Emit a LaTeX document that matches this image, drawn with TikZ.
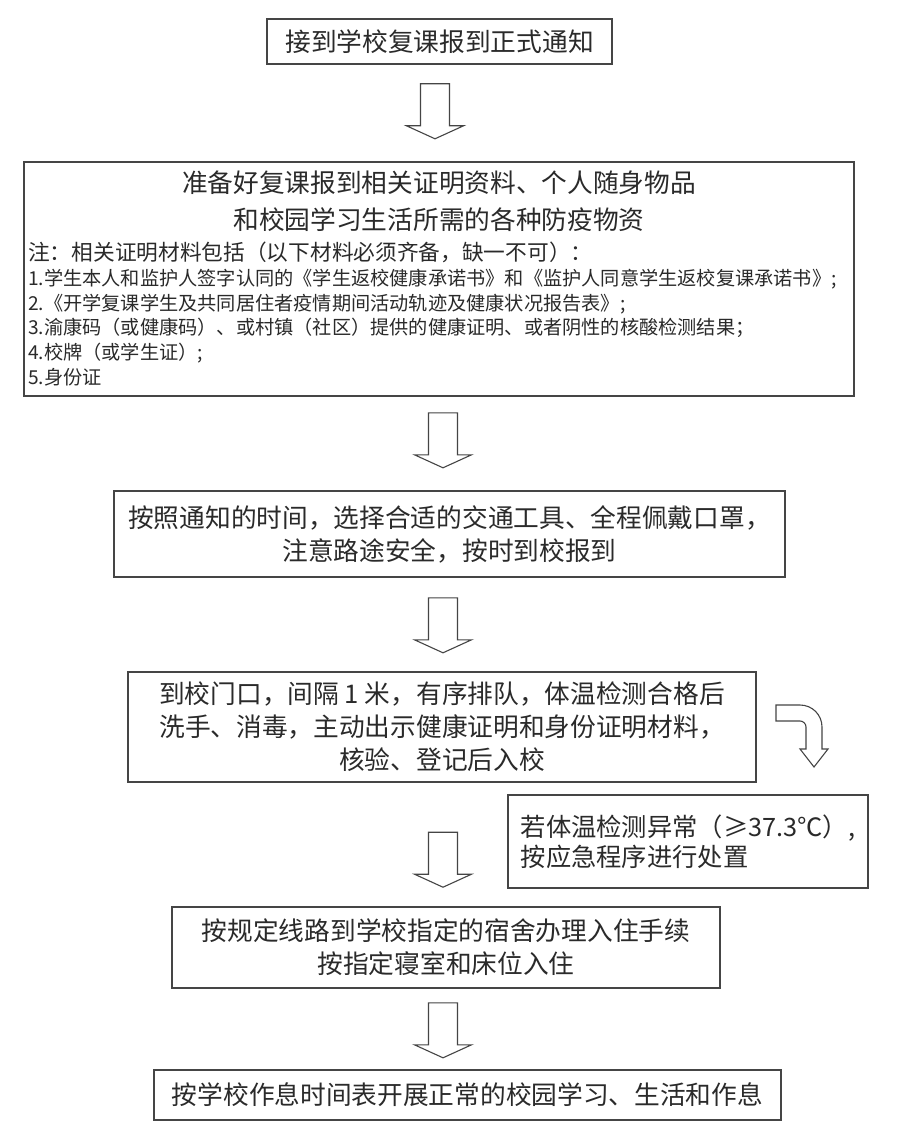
\documentclass[tikz,border=0pt]{standalone}
\usepackage{fontspec}
\setmainfont{Noto Sans CJK SC}
\usetikzlibrary{positioning}

\definecolor{linegray}{HTML}{454545}
\definecolor{textgray}{HTML}{2A2A2A}

\newcommand{\bigtext}{\fontsize{25.7pt}{33pt}\selectfont}
\newcommand{\notetext}{\fontsize{21.7pt}{26pt}\selectfont}
\newcommand{\itemtext}{\fontsize{19.2pt}{24.75pt}\selectfont}

\tikzset{
  stepbox/.style={draw=linegray, line width=1.6pt, text=textgray, align=center, font=\bigtext, inner sep=0pt},
  plaintext/.style={text=textgray, inner sep=0pt},
  hollowline/.style={draw=linegray, line width=1.1pt, fill=white, line join=miter},
  hollowdown/.pic={\draw[hollowline] (-14.5,0) -- (14.5,0) -- (14.5,42) -- (28.5,42) -- (0,55) -- (-28.5,42) -- (-14.5,42) -- cycle;}
}

\begin{document}
\begin{tikzpicture}[x=1pt, y=-1pt]

\fill[white] (0,0) rectangle (908,1134);
\useasboundingbox (0,0) rectangle (908,1134);

\node[stepbox, minimum width=345pt, minimum height=45pt] (notice) at (439.5,41.5) {接到学校复课报到正式通知};

% box with the list of documents
\node[stepbox, minimum width=830pt, minimum height=234pt] (prep) at (439,279) {};
\node[plaintext, align=center, font={\fontsize{25.7pt}{37pt}\selectfont}] (prephead) at (439,201.5)
  {准备好复课报到相关证明资料、个人随身物品\\和校园学习生活所需的各种防疫物资};
\node[plaintext, font=\notetext, anchor=west] (prepnote) at (28,252) {注：相关证明材料包括（以下材料必须齐备，缺一不可）：};
\node[plaintext, font=\itemtext, align=left, anchor=west] (prepitems) at (28,327.5)
  {1.学生本人和监护人签字认同的《学生返校健康承诺书》和《监护人同意学生返校复课承诺书》;\\
   2.《开学复课学生及共同居住者疫情期间活动轨迹及健康状况报告表》;\\
   3.渝康码（或健康码）、或村镇（社区）提供的健康证明、或者阴性的核酸检测结果；\\
   4.校牌（或学生证）;\\
   5.身份证};

\node[stepbox, minimum width=671pt, minimum height=86pt] (travel) at (449.5,534)
  {按照通知的时间，选择合适的交通工具、全程佩戴口罩，\\注意路途安全，按时到校报到};

\node[stepbox, minimum width=628pt, minimum height=110pt] (gate) at (442,727)
  {到校门口，间隔 1 米，有序排队，体温检测合格后\\洗手、消毒，主动出示健康证明和身份证明材料，\\核验、登记后入校};

\node[stepbox, align=left, font={\fontsize{25.3pt}{30pt}\selectfont}, minimum width=360pt, minimum height=93pt] (fever) at (688,841.5)
  {若体温检测异常（≥37.3℃）,\\按应急程序进行处置};

\node[stepbox, minimum width=548pt, minimum height=81pt] (dorm) at (446,947.5)
  {按规定线路到学校指定的宿舍办理入住手续\\按指定寝室和床位入住};

\node[stepbox, minimum width=627pt, minimum height=50pt] (daily) at (467.5,1095)
  {按学校作息时间表开展正常的校园学习、生活和作息};

% hollow arrows
\path (notice.south) ++(-4.5,19) pic {hollowdown};
\path (prep.south) ++(4,16) pic {hollowdown};
\path (travel.south) ++(-6.5,20) pic {hollowdown};
\path (dorm.north) ++(-3,-74) pic {hollowdown};
\path (dorm.south) ++(-3,14) pic {hollowdown};

% bent arrow to the fever box
\draw[hollowline] (776,705) -- (800,705) .. controls (812.2,705) and (822,714.8) .. (822,727)
  -- (822,749) -- (828,749) -- (814,767) -- (800,749) -- (806,749) -- (806,727)
  .. controls (806,723.7) and (803.3,721) .. (800,721) -- (776,721) -- cycle;

\end{tikzpicture}
\end{document}
